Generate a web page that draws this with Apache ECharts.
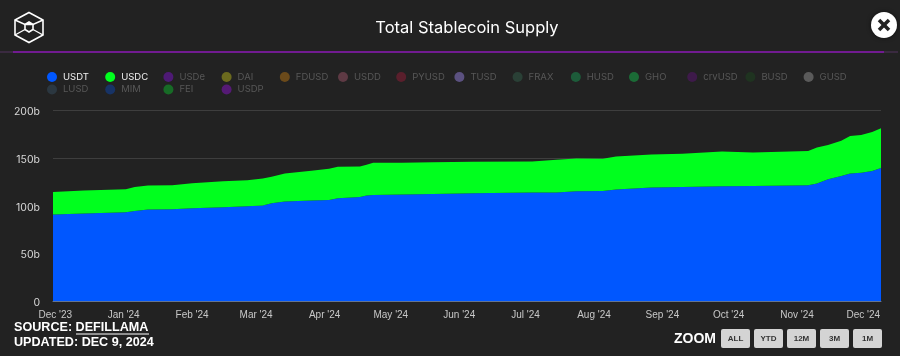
<!DOCTYPE html>
<html>
<head>
<meta charset="utf-8">
<style>html,body{margin:0;padding:0;background:#222;}#chart{width:900px;height:356px;}</style>
<script src="https://cdn.jsdelivr.net/npm/echarts@6/dist/echarts.min.js"></script>
</head>
<body>
<div id="chart"></div>
<script>
var dates = ['2023-11-30','2023-12-14','2024-01-02','2024-01-06','2024-01-12','2024-01-23','2024-02-01','2024-02-15','2024-02-26','2024-03-04','2024-03-08','2024-03-14','2024-03-26','2024-04-03','2024-04-07','2024-04-17','2024-04-20','2024-04-23','2024-05-06','2024-05-20','2024-06-07','2024-07-04','2024-07-15','2024-07-24','2024-08-05','2024-08-11','2024-08-27','2024-09-10','2024-09-28','2024-10-12','2024-11-06','2024-11-10','2024-11-15','2024-11-21','2024-11-25','2024-11-30','2024-12-05','2024-12-09'];
var usdt = [90.5,91.5,92.9,94.3,95.7,96,97.1,98.2,99.2,100,102.4,104.1,105.2,105.8,107.6,109,110.4,111.1,111.5,112.1,112.9,113.6,113.6,115,115.3,116.7,118.8,119.3,120.2,120.5,121.3,123,127.6,131,133.5,134.2,136,139.2];
var usdc = [23.7,24.2,24.2,25.2,25.2,25.3,26.3,27.3,27.3,28.3,27.6,29.4,31.1,32.6,32.9,31.9,32.2,33.6,33.2,33.3,32.8,32.5,34.2,34.3,33.6,34.7,34.7,35,36.4,35.1,35.7,37.8,35.7,36.8,39.2,39.6,41,41.6];
var monthTicks = ['2023-12-01','2024-01-01','2024-02-01','2024-03-01','2024-04-01','2024-05-01','2024-06-01','2024-07-01','2024-08-01','2024-09-01','2024-10-01','2024-11-01','2024-12-01'];
var monthLabels = ["Dec '23","Jan '24","Feb '24","Mar '24","Apr '24","May '24","Jun '24","Jul '24","Aug '24","Sep '24","Oct '24","Nov '24","Dec '24"];
var coinsRow1 = ['USDT','USDC','USDe','DAI','FDUSD','USDD','PYUSD','TUSD','FRAX','HUSD','GHO','crvUSD','BUSD','GUSD'];
var coinsRow2 = ['LUSD','MIM','FEI','USDP'];
var coinColors = {USDT:'#0057ff',USDC:'#00ff1e',USDe:'#4e1a75',DAI:'#6b6a1e',FDUSD:'#6b4a1a',USDD:'#5e3a44',PYUSD:'#5a1f2c',TUSD:'#5b5180',FRAX:'#2a4036',HUSD:'#1d5c3a',GHO:'#1b6b36',crvUSD:'#3e1a4a',BUSD:'#1f3320',GUSD:'#5a5a5a',LUSD:'#2b3740',MIM:'#173366',FEI:'#176b26',USDP:'#551a75'};
var zoomButtons = ['ALL','YTD','12M','3M','1M'];

var chart = echarts.init(document.getElementById('chart'));

function legendItem(name, col, top){
    var on = name == 'USDT' || name == 'USDC';
    return {
        left: 47 + col * 58.2,
        top: top,
        padding: 0,
        itemWidth: 10,
        itemHeight: 10,
        itemGap: 0,
        icon: 'circle',
        selectedMode: false,
        data: [{
            name: name,
            itemStyle: {color: coinColors[name]},
            textStyle: {color: on ? '#f0f0f0' : '#575757', fontFamily: 'Inter', fontSize: 9.5, padding: [0,0,0,1]}
        }]
    };
}
var legends = [];
coinsRow1.forEach(function(n, i){ legends.push(legendItem(n, i, 72)); });
coinsRow2.forEach(function(n, i){ legends.push(legendItem(n, i, 84.5)); });

var series = coinsRow1.concat(coinsRow2).map(function(n){
    var vals = n == 'USDT' ? usdt : n == 'USDC' ? usdc : [];
    return {
        name: n,
        type: 'line',
        stack: 'supply',
        showSymbol: false,
        lineStyle: {width: 0},
        itemStyle: {color: coinColors[n]},
        areaStyle: {color: coinColors[n], opacity: 1},
        data: vals.map(function(v, i){ return [dates[i], v]; })
    };
});

function line(x1, y1, x2, y2, color, w){
    return {type:'line', shape:{x1:x1,y1:y1,x2:x2,y2:y2}, style:{stroke:color, lineWidth:w}, silent:true};
}

// header logo, divider, close button
var graphics = [
    {type:'polygon', shape:{points:[[29,12.5],[43,20],[43,35],[29,42.5],[15,35],[15,20]]}, style:{fill:'none',stroke:'#fff',lineWidth:1.6}},
    {type:'polygon', shape:{points:[[29,22],[33,24.5],[33,29.5],[29,32],[25,29.5],[25,24.5]]}, style:{fill:'none',stroke:'#fff',lineWidth:1.6}},
    {type:'polyline', shape:{points:[[15,20],[25,24.5],[33,24.5],[43,20]]}, style:{fill:'none',stroke:'#fff',lineWidth:1.4}},
    {type:'polyline', shape:{points:[[15,35],[25,29.5]]}, style:{fill:'none',stroke:'#fff',lineWidth:1.4}},
    {type:'polyline', shape:{points:[[43,35],[33,29.5]]}, style:{fill:'none',stroke:'#fff',lineWidth:1.4}},
    line(0, 52, 13, 52, '#3a2a40', 2),
    line(884, 52, 898, 52, '#3a2a40', 2),
    line(13, 52, 884, 52, '#711b91', 2),
    {type:'circle', shape:{cx:884,cy:25,r:13}, style:{fill:'#fff',shadowBlur:4,shadowColor:'rgba(0,0,0,0.6)'}},
    line(879, 20, 889, 30, '#222', 3.6),
    line(889, 20, 879, 30, '#222', 3.6),
    {type:'text', left:14, top:321, style:{text:'SOURCE: DEFILLAMA', fill:'#fff', font:'bold 12.6px "Liberation Sans"'}},
    line(76, 334, 149, 334, '#fff', 1),
    {type:'text', left:14, top:336, style:{text:'UPDATED: DEC 9, 2024', fill:'#fff', font:'bold 12.6px "Liberation Sans"'}},
    {type:'text', left:674, top:332, style:{text:'ZOOM', fill:'#fff', font:'bold 14px "Liberation Sans"'}}
];
zoomButtons.forEach(function(b, i){
    var x = 721 + i * 33;
    graphics.push({type:'rect', shape:{x:x,y:329,width:29,height:19,r:2}, style:{fill:'#d4d4d4'}});
    graphics.push({type:'text', x:x+14.5, y:338.5, style:{text:b, fill:'#333', font:'bold 8px "Liberation Sans"', align:'center', verticalAlign:'middle'}});
});

var option = {
    backgroundColor: '#222222',
    animation: false,
    title: {
        text: 'Total Stablecoin Supply',
        left: 467,
        top: 20,
        textAlign: 'center',
        padding: 0,
        textStyle: {color:'#fff', fontFamily:'Inter', fontSize:16.5, fontWeight:400}
    },
    legend: legends,
    grid: {left:53, right:19, top:110, bottom:55},
    xAxis: {
        type: 'time',
        min: '2023-11-30',
        max: '2024-12-09',
        splitNumber: 12,
        axisLine: {lineStyle:{color:'#65748f', width:1}},
        axisTick: {show:false},
        splitLine: {show:false},
        axisLabel: {
            interval: 0,
            hideOverlap: false,
            showMinLabel: true,
            showMaxLabel: true,
            color: '#c8c8c8',
            fontFamily: 'Liberation Sans',
            fontSize: 10,
            margin: 9,
            formatter: function(v){
                var d = new Date(v);
                if (d.getDate() != 1) return '';
                var key = d.getFullYear() + '-' + ('0' + (d.getMonth() + 1)).slice(-2) + '-01';
                var i = monthTicks.indexOf(key);
                return i < 0 ? '' : monthLabels[i];
            }
        }
    },
    yAxis: {
        type: 'value',
        min: 0,
        max: 200,
        interval: 50,
        axisLine: {show:false},
        axisTick: {show:false},
        splitLine: {lineStyle:{color:'#3e3e3e', width:1}},
        axisLabel: {
            color: '#d8d8d8',
            fontFamily: 'Inter',
            fontSize: 10.5,
            margin: 13,
            verticalAlign: 'top',
            lineHeight: 4,
            formatter: function(v){ return v == 0 ? '0' : v + 'b'; }
        }
    },
    series: series,
    graphic: graphics
};
chart.setOption(option);
</script>
</body>
</html>
